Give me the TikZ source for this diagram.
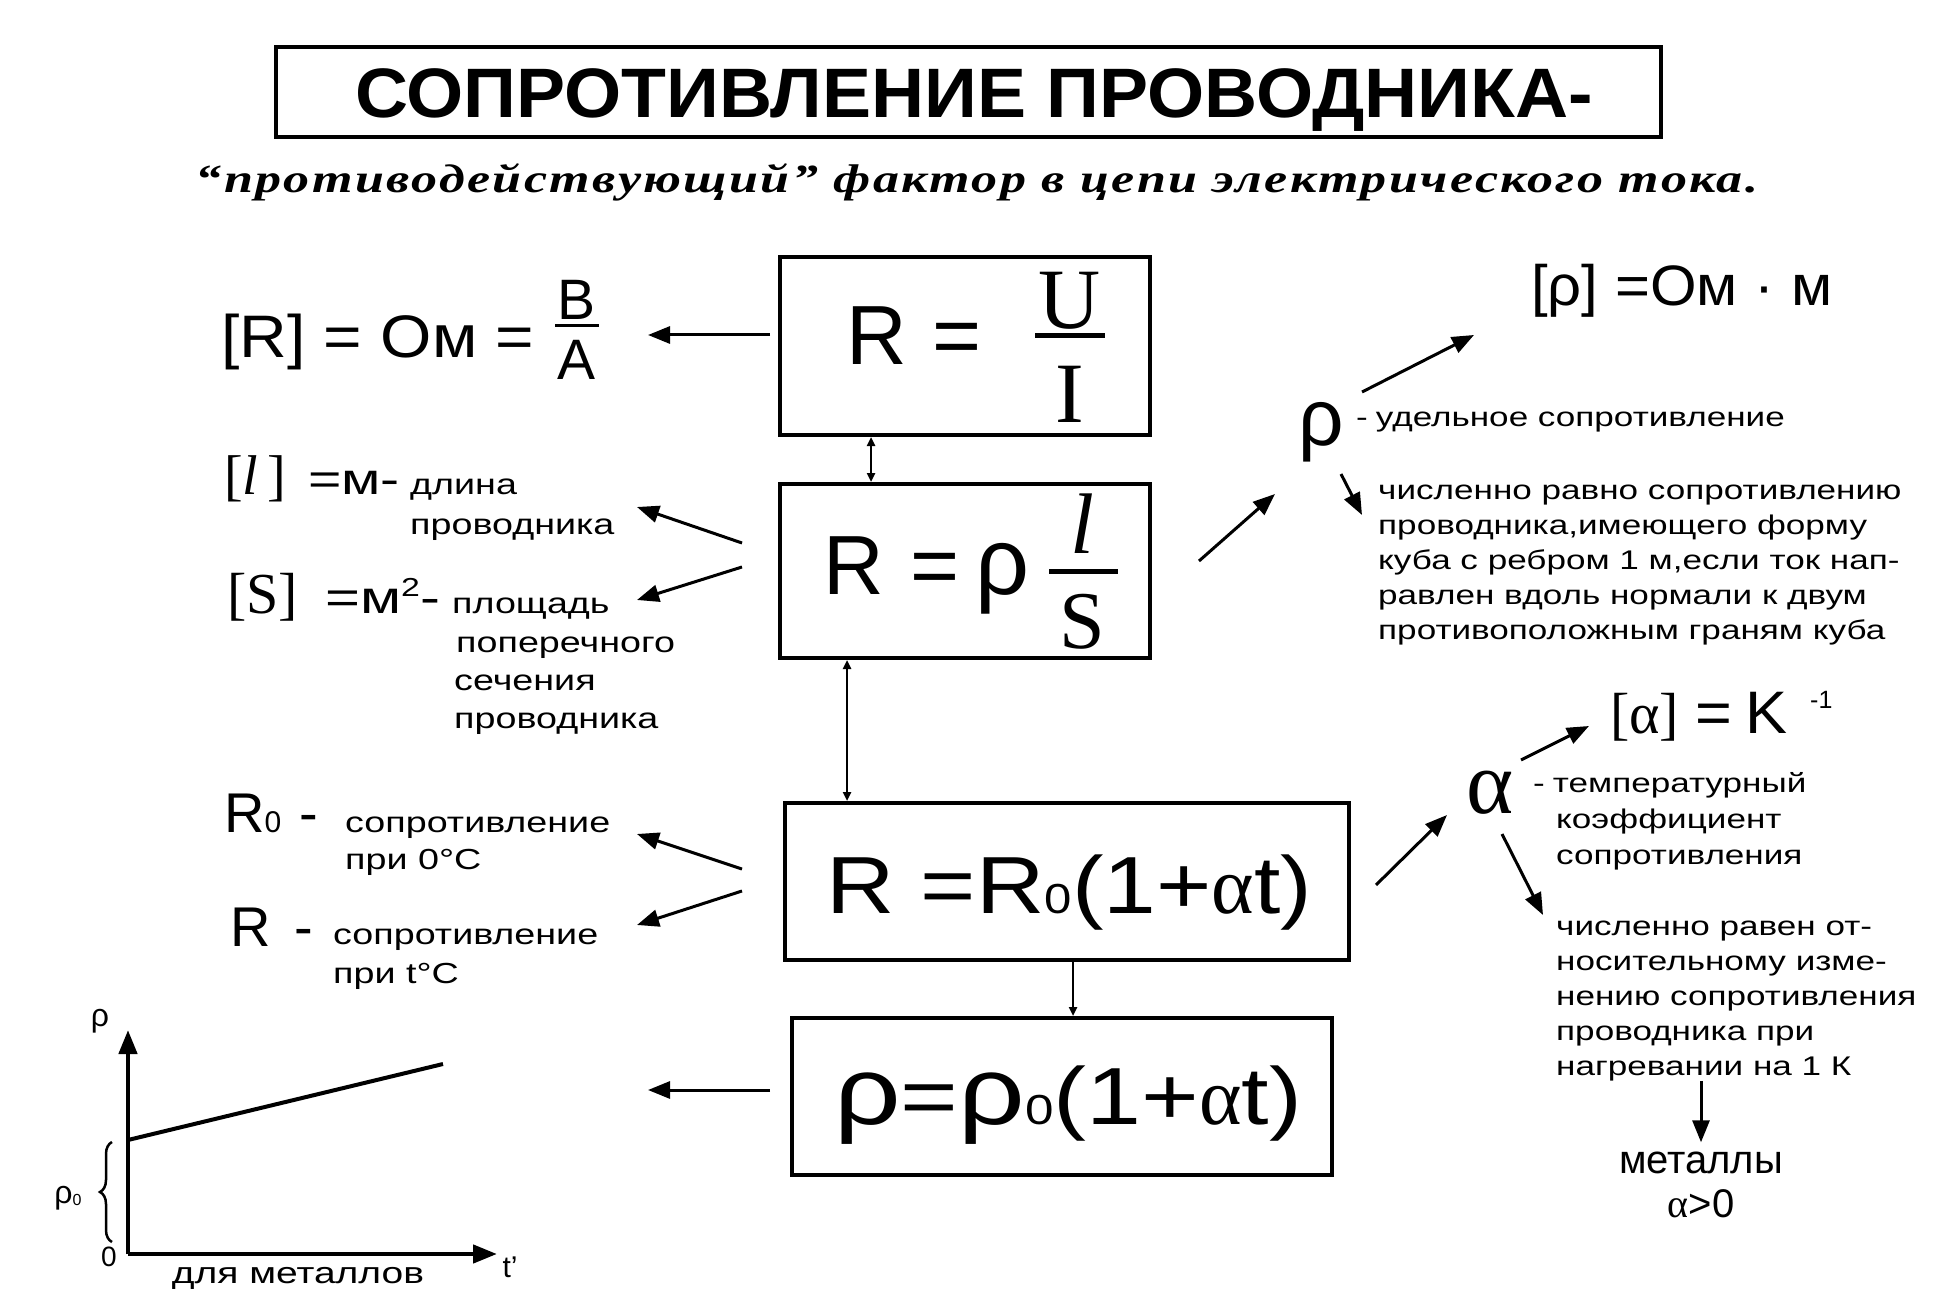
\documentclass[tikz,border=0pt]{standalone}
\usepackage{fontspec}
\setmainfont{Liberation Sans}
\newfontfamily\wide[FakeStretch=1.3]{Liberation Sans}
\newfontfamily\midw[FakeStretch=1.1]{Liberation Sans}
\newfontfamily\midv[FakeStretch=1.05]{Liberation Sans}
\newfontfamily\titlefont[FakeStretch=1.05]{Liberation Sans}
\newfontfamily\bthree[FakeStretch=1.17]{Liberation Sans}
\newfontfamily\bfour[FakeStretch=1.22]{Liberation Sans}
\newfontfamily\serif{Liberation Serif}
\newfontfamily\subfont[FakeStretch=1.3,LetterSpace=6]{Liberation Serif}
\usetikzlibrary{arrows.meta,decorations.pathreplacing,calc}
\newcommand{\fs}[1]{\fontsize{#1}{#1}\selectfont}
\begin{document}
\begin{tikzpicture}[x=1pt,y=-1pt,
  frame/.style={draw, line width=4pt, inner sep=0pt},
  t/.style={inner sep=0pt, anchor=base west},
  tc/.style={inner sep=0pt, anchor=base},
  arr/.style={line width=3pt, -{Triangle[length=22pt,width=17pt]}},
  link/.style={line width=2.5pt},
  smalltip/.style={{Triangle[length=9pt,width=8pt]}-{Triangle[length=9pt,width=8pt]}},
  downtip/.style={-{Triangle[length=9pt,width=8pt]}},
  fracrule/.style={line width=5pt},
  small/.style={t, font=\wide\fs{27}},
  lsmall/.style={t, font=\wide\fs{29}}]
\fill[white] (0,0) rectangle (1947,1297);
\useasboundingbox (0,0) rectangle (1947,1297);

% title
\node[frame, line width=4.5pt, minimum width=1385pt, minimum height=90pt] (title) at (968.5,92) {};
\node[tc] (titletext) at (974,118) {\titlefont\fs{70}\bfseries СОПРОТИВЛЕНИЕ ПРОВОДНИКА-};
\node[tc] (subtitle) at (977,193) {\subfont\bfseries\itshape\fs{40}“противодействующий” фактор в цепи электрического тока.};

% box 1
\node[frame, minimum width=370pt, minimum height=178pt] (b1) at (965,346) {};
\node[t] (b1R) at (846,364) {\fs{84}R};
\node[t] (b1eq) at (932,364) {\fs{84}=};
\node[tc] (b1U) at (1070,329) {\serif\fs{86}U};
\draw[fracrule] (1035,336) -- (1105,336);
\node[tc] (b1I) at (1070,422) {\serif\fs{86}I};

% box 2
\node[frame, minimum width=370pt, minimum height=174pt] (b2) at (965,571) {};
\node[t] (b2R) at (823,594) {\fs{84}R};
\node[t] (b2eq) at (910,594) {\fs{84}=};
\node[t] (b2rho) at (975,594) {\fs{95}ρ};
\node[tc] (b2l) at (1082,553) {\serif\itshape\fs{86}l};
\draw[fracrule] (1049,571) -- (1118,571);
\node[tc] (b2S) at (1082,648) {\serif\fs{82}S};

% box 3
\node[frame, minimum width=564pt, minimum height=157pt] (b3) at (1067,881.5) {};
\node[t] (b3f) at (826,913) {\bthree\fs{81}R =R{\fs{42}0}(1+{\serif α}t)};

% box 4
\node[frame, minimum width=540pt, minimum height=157pt] (b4) at (1062,1096.5) {};
\node[t] (b4f) at (834,1124) {\bfour\fs{81}{\fs{96}ρ}={\fs{96}ρ}{\fs{42}0}(1+{\serif α}t)};

% links between boxes
\draw[link, smalltip] ($(b1.south west)+(93,0)$) -- ($(b2.north west)+(93,0)$);
\draw[link, smalltip] ($(b2.south west)+(69,0)$) -- ($(b3.north west)+(64,0)$);
\draw[link, downtip] ($(b3.south west)+(290,0)$) -- ($(b4.north west)+(283,0)$);

% left labels
\node[t] (lR) at (221,357) {\midw\fs{60}[R] = Ом =};
\node[tc] (lRB) at (577,320) {\fs{57}В};
\draw[line width=3pt] (555,326) -- (599,326);
\node[tc] (lRA) at (577,379) {\fs{57}А};

\node[t] (ll) at (224,494) {\serif\fs{56}[\textit{l}\,]};
\node[t] (llm) at (308,494) {\wide\fs{44}=м-};
\node[lsmall] (ll1) at (410,494) {длина};
\node[lsmall] (ll2) at (410,534) {проводника};

\node[t] (lS) at (227,613) {\serif\fs{58}[S]};
\node[t] (lSm) at (325,613) {\wide\fs{46}=м\raisebox{17pt}{\fs{26}2}-};
\node[lsmall] (lS1) at (452,613) {площадь};
\node[lsmall] (lS2) at (456,652) {поперечного};
\node[lsmall] (lS3) at (454,690) {сечения};
\node[lsmall] (lS4) at (454,728) {проводника};

\node[t] (lR0) at (224,832) {\fs{56}R{\fs{30}0}\hspace{18pt}-};
\node[lsmall] (lR01) at (345,832) {сопротивление};
\node[lsmall] (lR02) at (345,869) {при 0°С};
\node[t] (lRt) at (230,946) {\fs{56}R\hspace{24pt}-};
\node[lsmall] (lRt1) at (333,944) {сопротивление};
\node[lsmall] (lRt2) at (333,983) {при t°С};

% left arrows
\coordinate (s1) at (770,335); \coordinate (e1) at (648,335);
\coordinate (s2) at (742,543); \coordinate (e2) at (637,507);
\coordinate (s3) at (742,567); \coordinate (e3) at (637,600);
\coordinate (s4) at (742,869); \coordinate (e4) at (637,834);
\coordinate (s5) at (742,891); \coordinate (e5) at (637,925);
\coordinate (s6) at (770,1090); \coordinate (e6) at (648,1090);
\draw[arr] (s1) -- (e1);
\draw[arr] (s2) -- (e2);
\draw[arr] (s3) -- (e3);
\draw[arr] (s4) -- (e4);
\draw[arr] (s5) -- (e5);
\draw[arr] (s6) -- (e6);

% graph
\coordinate (O) at (128,1254);
\coordinate (Ytop) at (128,1030);
\coordinate (Xend) at (497,1254);
\coordinate (L1) at (128,1140);
\coordinate (L2) at (443,1064);
\draw[line width=4.5pt, -{Triangle[length=24pt,width=18pt]}] (O) -- (Ytop);
\draw[line width=4.5pt, -{Triangle[length=24pt,width=18pt]}] (O) -- (Xend);
\draw[line width=4pt] (L1) -- (L2);
\draw[line width=2.5pt, decorate, decoration={brace, amplitude=12pt}] (112,1242) -- (112,1142);
\node[inner sep=0pt] (gy) at (100,1021) {\fs{32}ρ};
\node[inner sep=0pt] (g0) at (109,1257) {\fs{28}0};
\node[inner sep=0pt] (gt) at (510,1267) {\fs{30}t'};
\node[inner sep=0pt] (grho0) at (68,1198) {\fs{32}ρ\raisebox{-2pt}{\fs{16}0}};
\node[tc, font=\wide\fs{30}] (gmet) at (298,1283) {для металлов};

% right: rho
\node[t] (rhoU) at (1531,306) {\midv\fs{57}[ρ] =Ом · м};
\node[t] (rho) at (1298,445) {\fs{80}ρ};
\node[small] (rhod) at (1356,426) {-\hspace{8pt}удельное сопротивление};
\foreach \i/\s in {0/{численно равно сопротивлению},1/{проводника,имеющего форму},2/{куба с ребром 1 м,если ток нап-},3/{равлен вдоль нормали к двум},4/{противоположным граням куба}}
  \node[small] (pa\i) at (1378,{499+35*\i}) {\s};
\coordinate (r1s) at (1199,561); \coordinate (r1e) at (1275,494);
\coordinate (r2s) at (1362,392); \coordinate (r2e) at (1474,335);
\coordinate (r3s) at (1341,474); \coordinate (r3e) at (1362,515);
\draw[arr] (r1s) -- (r1e);
\draw[arr] (r2s) -- (r2e);
\draw[arr] (r3s) -- (r3e);

% right: alpha
\node[t] (alU) at (1610,733) {\serif\fs{58}[α]};
\node[t] (alU2) at (1695,733) {\midv\fs{60}=\hspace{14pt}K};
\node[t] (alU3) at (1810,708) {\fs{25}-1};
\node[t] (al) at (1466,813) {\serif\fs{90}α};
\node[small] (ald1) at (1533,792) {-\hspace{8pt}температурный};
\node[small] (ald2) at (1556,828) {коэффициент};
\node[small] (ald3) at (1556,864) {сопротивления};
\foreach \i/\s in {0/{численно равен от-},1/{носительному изме-},2/{нению сопротивления},3/{проводника при},4/{нагревании на 1 К}}
  \node[small] (pb\i) at (1556,{935+35*\i}) {\s};
\coordinate (a1s) at (1376,885); \coordinate (a1e) at (1447,815);
\coordinate (a2s) at (1521,760); \coordinate (a2e) at (1589,726);
\coordinate (a3s) at (1502,834); \coordinate (a3e) at (1543,915);
\draw[arr] (a1s) -- (a1e);
\draw[arr] (a2s) -- (a2e);
\draw[arr] (a3s) -- (a3e);
\node[tc] (met) at (1701,1173) {\fs{40}металлы};
\node[tc] (apos) at (1701,1217) {\fs{40}{\serif α}>0};
\draw[arr, shorten >=9pt] (pb4.south -| met) -- (met.north);
\end{tikzpicture}
\end{document}
